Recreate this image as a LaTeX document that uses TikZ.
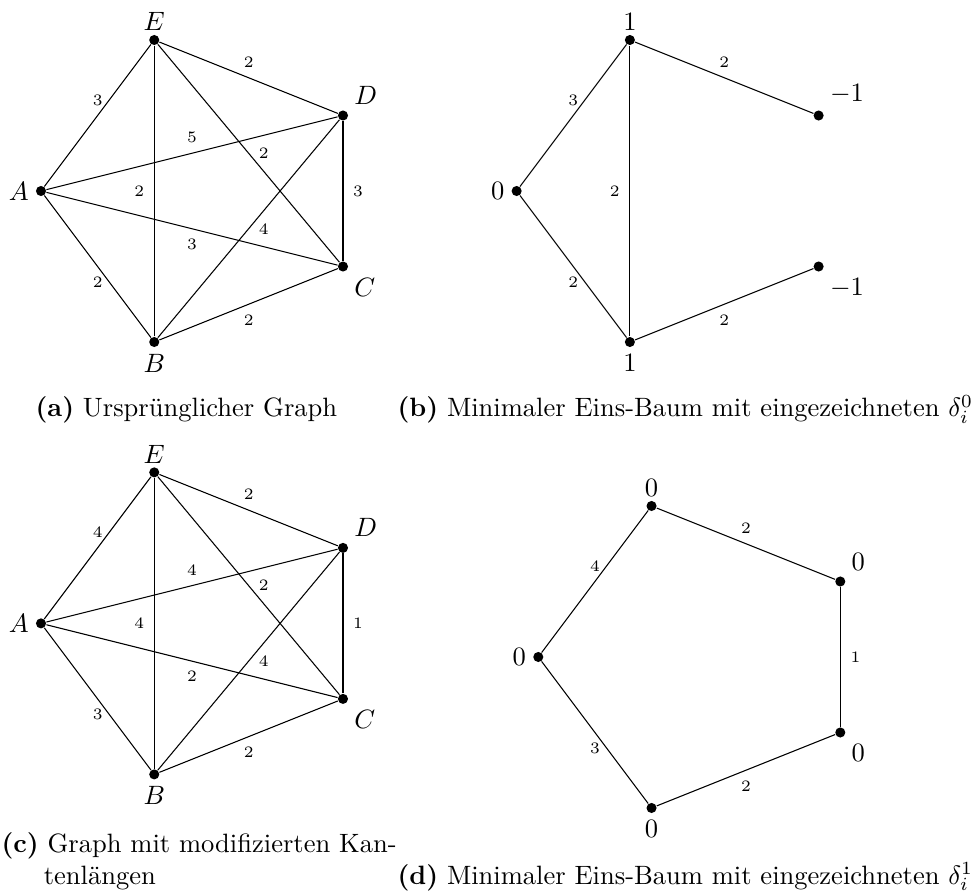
\documentclass[tikz,border=0pt]{standalone}
\begin{document}
\begin{tikzpicture}[
  vtx/.style={circle, fill=black, inner sep=0pt, minimum size=3.8pt},
  elab/.style={font=\fontsize{6}{7}\selectfont, inner sep=0pt, midway},
  ab/.style={yshift=0.205cm},
  be/.style={yshift=-0.205cm},
  le/.style={xshift=-0.2cm},
  ri/.style={xshift=0.2cm},
  lu/.style={label distance=-2.2pt},
  lo/.style={label distance=-1pt},
  captext/.style={anchor=base west, inner sep=0pt, font=\normalsize}
]
\useasboundingbox (-0.543,2.530) rectangle (12.411,-9.311);

% ---------- (a) ----------
\begin{scope}
\node[vtx, label={[lo]left:$A$}]        (aA) at (0,0) {};
\node[vtx, label={[lu]above:$E$}]       (aE) at (1.5,2) {};
\node[vtx, label={[lo]below:$B$}]       (aB) at (1.5,-2) {};
\node[vtx, label={[lo]above right:$D$}] (aD) at (4,1) {};
\node[vtx, label={[lo]below right:$C$}] (aC) at (4,-1) {};
\draw (aA) -- node[elab, ab] {3} (aE);
\draw (aE) -- node[elab, ab] {2} (aD);
\draw (aA) -- node[elab, ab] {5} (aD);
\draw (aE) -- node[elab, ri] {2} (aC);
\draw (aE) -- node[elab, le] {2} (aB);
\draw (aD) -- node[elab, ri] {3} (aC);
\draw (aA) -- node[elab, be] {3} (aC);
\draw (aB) -- node[elab, ri] {4} (aD);
\draw (aA) -- node[elab, be] {2} (aB);
\draw (aB) -- node[elab, be] {2} (aC);
\end{scope}
\node[captext] (capa) at (-0.079,-2.993) {\textbf{(a)} Ursprünglicher Graph};

% ---------- (b) ----------
\begin{scope}[shift={(6.3,0)}]
\node[vtx, label={[lo]left:$0$}]         (bA) at (0,0) {};
\node[vtx, label={[lu]above:$1$}]        (bE) at (1.5,2) {};
\node[vtx, label={[lo]below:$1$}]        (bB) at (1.5,-2) {};
\node[vtx, label={[lo]above right:$-1$}] (bD) at (4,1) {};
\node[vtx, label={[lo]below right:$-1$}] (bC) at (4,-1) {};
\draw (bA) -- node[elab, ab] {3} (bE);
\draw (bE) -- node[elab, ab] {2} (bD);
\draw (bE) -- node[elab, le] {2} (bB);
\draw (bA) -- node[elab, be] {2} (bB);
\draw (bB) -- node[elab, be] {2} (bC);
\end{scope}
\node[captext] (capb) at (4.715,-2.993) {\textbf{(b)} Minimaler Eins-Baum mit eingezeichneten $\delta_i^0$};

% ---------- (c) ----------
\begin{scope}[shift={(0,-5.727)}]
\node[vtx, label={[lo]left:$A$}]        (cA) at (0,0) {};
\node[vtx, label={[lu]above:$E$}]       (cE) at (1.5,2) {};
\node[vtx, label={[lo]below:$B$}]       (cB) at (1.5,-2) {};
\node[vtx, label={[lo]above right:$D$}] (cD) at (4,1) {};
\node[vtx, label={[lo]below right:$C$}] (cC) at (4,-1) {};
\draw (cA) -- node[elab, ab] {4} (cE);
\draw (cE) -- node[elab, ab] {2} (cD);
\draw (cA) -- node[elab, ab] {4} (cD);
\draw (cE) -- node[elab, ri] {2} (cC);
\draw (cE) -- node[elab, le] {4} (cB);
\draw (cD) -- node[elab, ri] {1} (cC);
\draw (cA) -- node[elab, be] {2} (cC);
\draw (cB) -- node[elab, ri] {4} (cD);
\draw (cA) -- node[elab, be] {3} (cB);
\draw (cB) -- node[elab, be] {2} (cC);
\end{scope}
\node[captext] (capc1) at (-0.530,-8.762) {\textbf{(c)} Graph mit modifizierten Kan-};
\node[captext] (capc2) at (0.030,-9.179) {tenlängen};

% ---------- (d) ----------
\begin{scope}[shift={(6.587,-6.172)}]
\node[vtx, label={[lo]left:$0$}]        (dA) at (0,0) {};
\node[vtx, label={[lu]above:$0$}]       (dE) at (1.5,2) {};
\node[vtx, label={[lo]below:$0$}]       (dB) at (1.5,-2) {};
\node[vtx, label={[lo]above right:$0$}] (dD) at (4,1) {};
\node[vtx, label={[lo]below right:$0$}] (dC) at (4,-1) {};
\draw (dA) -- node[elab, ab] {4} (dE);
\draw (dE) -- node[elab, ab] {2} (dD);
\draw (dD) -- node[elab, ri] {1} (dC);
\draw (dA) -- node[elab, be] {3} (dB);
\draw (dB) -- node[elab, be] {2} (dC);
\end{scope}
\node[captext] (capd) at (4.715,-9.179) {\textbf{(d)} Minimaler Eins-Baum mit eingezeichneten $\delta_i^1$};
\end{tikzpicture}
\end{document}
